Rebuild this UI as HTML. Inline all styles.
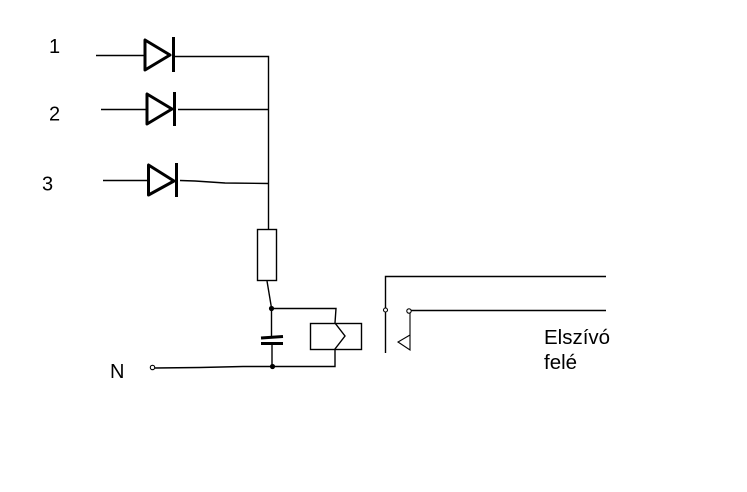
<!DOCTYPE html>
<html>
<head>
<meta charset="utf-8">
<style>
html,body{margin:0;padding:0;background:#fff;width:747px;height:492px;overflow:hidden}
svg{display:block}
text{font-family:"Liberation Sans",sans-serif;font-size:20px;fill:#000}
</style>
</head>
<body>
<svg width="747" height="492" viewBox="0 0 747 492" xmlns="http://www.w3.org/2000/svg">
<rect width="747" height="492" fill="#fff"/>
<g fill="none" stroke="#000" stroke-width="1.4">
  <path d="M96 55.5H144"/>
  <path d="M173 56.5H268.5V229"/>
  <path d="M101 109.5H146"/>
  <path d="M178 109.5H268"/>
  <path d="M103 180.5H148"/>
  <path d="M180 180.5L195 181L225 183L269 183.5"/>
  <rect x="257.5" y="229.5" width="19" height="51"/>
  <path d="M267 281L271.5 308"/>
  <path d="M271.5 308.5H336L335 323L345 336L335 349V366.5H243L200 367.5L155 368"/>
  <rect x="310.5" y="323.5" width="51" height="26"/>
  <path d="M271.5 308V337M272 343V366"/>
  <path d="M385.5 353V276.5H606"/>
  <path d="M410 310.5H606"/>
  <path d="M410 311V350L398 342L410 335" stroke-width="1.1"/>
</g>
<g fill="none" stroke="#000" stroke-width="3">
  <path d="M145 40V70L170 55Z" stroke-linejoin="round"/>
  <path d="M173.5 37V72"/>
  <path d="M147 94V124L172 109Z" stroke-linejoin="round"/>
  <path d="M174.5 92V126"/>
  <path d="M148.5 165V195L174 181Z" stroke-linejoin="round"/>
  <path d="M176.5 163V197"/>
  <path d="M261 338L283 336.5M261 343.5H283"/>
</g>
<circle cx="271.5" cy="308.5" r="2.6" fill="#000"/>
<circle cx="272.5" cy="366.5" r="2.6" fill="#000"/>
<g fill="#fff" stroke="#000" stroke-width="1.1">
  <circle cx="152.5" cy="367.5" r="2.2"/>
  <circle cx="385.5" cy="310" r="2"/>
  <circle cx="409" cy="311" r="2.2"/>
</g>
<text x="49" y="53">1</text>
<text x="49" y="120.5">2</text>
<text x="42" y="190.5">3</text>
<text x="110" y="378">N</text>
<text x="544" y="344" style="font-size:20.5px">Elszívó</text>
<text x="544" y="369" style="font-size:20.5px">felé</text>
</svg>
</body>
</html>
